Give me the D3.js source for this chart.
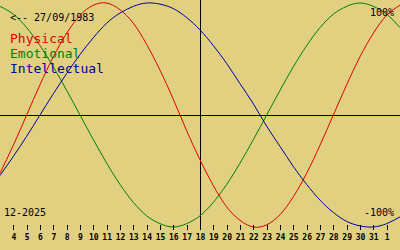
<!DOCTYPE html>
<html>
<head>
<meta charset="utf-8">
<script src="https://cdn.jsdelivr.net/npm/d3@7"></script>
<style>
  body { margin: 0; background: #e0d080; }
  svg { display: block; }
  text { font-family: "DejaVu Sans Mono", monospace; }
</style>
</head>
<body>
<script>
// days shown: 3 dec 2025 .. 2 jan 2026 (33 = 2 jan)
var days = d3.range(3, 34);

var physical = [-0.52, -0.27, 0, 0.27, 0.52, 0.73, 0.89, 0.98, 1.0, 0.94, 0.82, 0.63, 0.4, 0.14,
  -0.14, -0.4, -0.63, -0.82, -0.94, -1.0, -0.98, -0.89, -0.73, -0.52, -0.27, 0, 0.27, 0.52, 0.73, 0.89, 0.98];
var emotional = [0.97, 0.9, 0.78, 0.62, 0.43, 0.22, 0, -0.22, -0.43, -0.62, -0.78, -0.9, -0.97, -1.0,
  -0.97, -0.9, -0.78, -0.62, -0.43, -0.22, 0, 0.22, 0.43, 0.62, 0.78, 0.9, 0.97, 1.0, 0.97, 0.9, 0.78];
var intellectual = [-0.54, -0.37, -0.19, 0, 0.19, 0.37, 0.54, 0.69, 0.82, 0.91, 0.97, 1.0, 0.99, 0.95,
  0.87, 0.76, 0.62, 0.46, 0.28, 0.1, -0.1, -0.28, -0.46, -0.62, -0.76, -0.87, -0.95, -0.99, -1.0, -0.97, -0.91];

var tickDays = d3.range(4, 33);
var tickLabels = ["4","5","6","7","8","9","10","11","12","13","14","15","16","17","18","19","20",
  "21","22","23","24","25","26","27","28","29","30","31","1"];
var today = 18;

var series = [
  {name: "Physical", values: physical, color: "#e00000"},
  {name: "Emotional", values: emotional, color: "#008000"},
  {name: "Intellectual", values: intellectual, color: "#0000a0"}
];

var width = 400, height = 250;

var svg = d3.select("body").append("svg")
  .attr("width", width)
  .attr("height", height);

svg.append("rect")
  .attr("width", width)
  .attr("height", height)
  .attr("fill", "#e0d080");

var x = d3.scaleLinear().domain([3, 33]).range([0, 400]);
var y = d3.scaleLinear().domain([-1, 1]).range([227, 3]);

// axes lines
svg.append("line")
  .attr("x1", 0).attr("x2", width)
  .attr("y1", Math.round(y(0)) + 0.5).attr("y2", Math.round(y(0)) + 0.5)
  .attr("stroke", "#000");

svg.append("line")
  .attr("x1", Math.round(x(today)) + 0.5).attr("x2", Math.round(x(today)) + 0.5)
  .attr("y1", 0).attr("y2", 230)
  .attr("stroke", "#000");

var line = d3.line()
  .x(function(d) { return x(d[0]); })
  .y(function(d) { return y(d[1]); })
  .curve(d3.curveNatural);

series.forEach(function(s) {
  svg.append("path")
    .datum(days.map(function(d, i) { return [d, s.values[i]]; }))
    .attr("d", line)
    .attr("fill", "none")
    .attr("stroke", s.color)
    .attr("stroke-width", 1);
});

// bottom ticks
var axis = d3.axisBottom(x)
  .tickValues(tickDays)
  .tickSize(5)
  .tickPadding(4)
  .tickFormat(function(d, i) { return tickLabels[i]; });

var g = svg.append("g")
  .attr("transform", "translate(0,225)")
  .call(axis);
g.select(".domain").remove();
g.selectAll(".tick line").attr("stroke", "#000").attr("shape-rendering", "crispEdges");
g.selectAll(".tick text")
  .attr("fill", "#000")
  .style("font-family", "DejaVu Sans Mono, monospace")
  .style("font-weight", "bold")
  .style("font-size", "8px");

// texts
svg.append("text").attr("x", 10).attr("y", 21)
  .attr("font-size", 10).text("<-- 27/09/1983");

svg.selectAll(".legend")
  .data(series)
  .enter().append("text")
  .attr("x", 10)
  .attr("y", function(d, i) { return 43 + i * 15; })
  .attr("font-size", 13)
  .attr("fill", function(d) { return d.color; })
  .text(function(d) { return d.name; });

svg.append("text").attr("x", 394).attr("y", 16)
  .attr("text-anchor", "end").attr("font-size", 10).text("100%");
svg.append("text").attr("x", 394).attr("y", 216)
  .attr("text-anchor", "end").attr("font-size", 10).text("-100%");
svg.append("text").attr("x", 4).attr("y", 216)
  .attr("font-size", 10).text("12-2025");
</script>
</body>
</html>
